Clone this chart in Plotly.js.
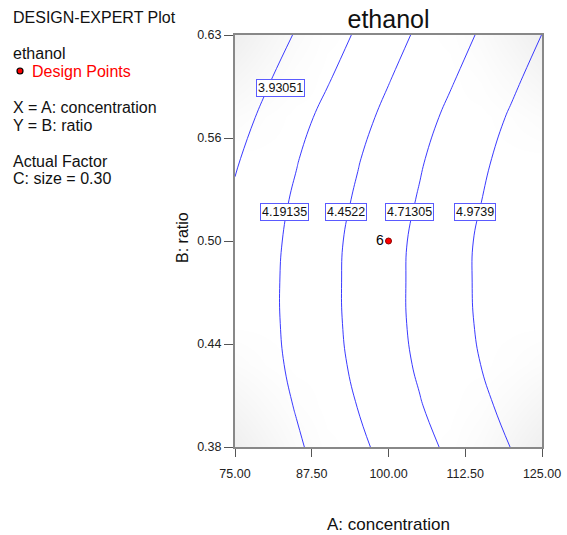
<!DOCTYPE html>
<html>
<head>
<meta charset="utf-8">
<script src="https://cdn.plot.ly/plotly-3.0.1.min.js"></script>
<style>html,body{margin:0;padding:0;background:#fff;}#chart{width:567px;height:535px;}</style>
</head>
<body>
<div id="chart"></div>
<script>
// ---- data ----
const concentration = [75, 80, 85, 90, 95, 100, 105, 110, 115, 120, 125];
const ratio = [0.375, 0.4, 0.425, 0.45, 0.475, 0.5, 0.525, 0.55, 0.575, 0.6, 0.625];
// ethanol response, one row per ratio value (ascending)
const row0375 = [3.9420, 4.0378, 4.1597, 4.2816, 4.4035, 4.5221, 4.6385, 4.7535, 4.8659, 4.9784, 5.0869];
const row0400 = [3.9550, 4.0796, 4.2055, 4.3313, 4.4570, 4.5778, 4.6986, 4.8129, 4.9263, 5.0380, 5.1485];
const row0425 = [3.9847, 4.1146, 4.2425, 4.3704, 4.4965, 4.6195, 4.7410, 4.8574, 4.9739, 5.0873, 5.2007];
const row0450 = [3.9991, 4.1301, 4.2593, 4.3886, 4.5157, 4.6406, 4.7629, 4.8814, 4.9995, 5.1160, 5.2324];
const row0475 = [3.9990, 4.1314, 4.2618, 4.3922, 4.5193, 4.6435, 4.7662, 4.8870, 5.0068, 5.1243, 5.2418];
const row0500 = [3.9864, 4.1199, 4.2523, 4.3847, 4.5131, 4.6375, 4.7606, 4.8818, 5.0024, 5.1209, 5.2395];
const row0525 = [3.9618, 4.0927, 4.2225, 4.3523, 4.4806, 4.6043, 4.7276, 4.8483, 4.9690, 5.0877, 5.2063];
const row0550 = [3.9059, 4.0425, 4.1791, 4.3094, 4.4392, 4.5644, 4.6891, 4.8103, 4.9306, 5.0509, 5.1712];
const row0575 = [3.8385, 3.9779, 4.1172, 4.2518, 4.3811, 4.5086, 4.6340, 4.7575, 4.8777, 4.9979, 5.1181];
const row0600 = [3.7646, 3.8988, 4.0330, 4.1672, 4.3016, 4.4361, 4.5615, 4.6857, 4.8072, 4.9280, 5.0488];
const row0625 = [3.6754, 3.8115, 3.9477, 4.0838, 4.2200, 4.3566, 4.4893, 4.6128, 4.7353, 4.8534, 4.9760];
// faint background shading (prediction error), darker toward the corners
const shade0375 = [0.9, 0.55, 0.25, 0.05, 0, 0, 0, 0.05, 0.25, 0.55, 0.9];
const shade0400 = [0.55, 0.3, 0.1, 0, 0, 0, 0, 0, 0.1, 0.3, 0.55];
const shade0425 = [0.2, 0.08, 0, 0, 0, 0, 0, 0, 0, 0.08, 0.2];
const shade0450 = [0, 0, 0, 0, 0, 0, 0, 0, 0, 0, 0];
const shade0475 = [0, 0, 0, 0, 0, 0, 0, 0, 0, 0, 0];
const shade0500 = [0, 0, 0, 0, 0, 0, 0, 0, 0, 0, 0];
const shade0525 = [0, 0, 0, 0, 0, 0, 0, 0, 0, 0, 0];
const shade0550 = [0, 0, 0, 0, 0, 0, 0, 0, 0, 0, 0];
const shade0575 = [0.2, 0.08, 0, 0, 0, 0, 0, 0, 0, 0.08, 0.2];
const shade0600 = [0.55, 0.3, 0.1, 0, 0, 0, 0, 0, 0.1, 0.3, 0.55];
const shade0625 = [0.9, 0.55, 0.25, 0.05, 0, 0, 0, 0.05, 0.25, 0.55, 0.9];
const contourLevels = [3.93051, 4.19135, 4.4522, 4.71305, 4.9739];
const labelTexts = ['3.93051', '4.19135', '4.4522', '4.71305', '4.9739'];
const designA = [100];
const designB = [0.50];
const designLabels = ['6'];
const xTickVals = [75, 87.5, 100, 112.5, 125];
const xTickText = ['75.00', '87.50', '100.00', '112.50', '125.00'];
const yTickVals = [0.375, 0.4375, 0.5, 0.5625, 0.625];
const yTickText = ['0.38', '0.44', '0.50', '0.56', '0.63'];
const infoLines = ['DESIGN-EXPERT Plot', 'ethanol', 'Design Points', 'X = A: concentration', 'Y = B: ratio', 'Actual Factor', 'C: size = 0.30'];

// ---- layout helpers (positions only) ----
const W = 567, H = 535, L = 235, R = 542, T = 35, B = 447;
const px = x => (x - L) / (R - L);
const py = y => (B - y) / (B - T);
const FONT = 'Liberation Sans, Arial, sans-serif';
const labelPos = [[82.41, 0.5927], [83.06, 0.5178], [93.03, 0.5178], [103.4, 0.5178], [114.1, 0.5178]];

const zGrid = [row0375, row0400, row0425, row0450, row0475, row0500, row0525, row0550, row0575, row0600, row0625];
const shadeGrid = [shade0375, shade0400, shade0425, shade0450, shade0475, shade0500, shade0525, shade0550, shade0575, shade0600, shade0625];

const shading = {
  type: 'heatmap',
  x: concentration,
  y: ratio,
  z: shadeGrid,
  zmin: 0, zmax: 1,
  zsmooth: 'best',
  colorscale: [[0, '#ffffff'], [1, '#ededed']],
  showscale: false,
  hoverinfo: 'skip'
};

const contour = {
  type: 'contour',
  x: concentration,
  y: ratio,
  z: zGrid,
  showscale: false,
  hoverinfo: 'skip',
  contours: {
    coloring: 'none',
    start: contourLevels[0],
    end: contourLevels[contourLevels.length - 1],
    size: contourLevels[1] - contourLevels[0],
    showlabels: false
  },
  line: {color: '#2424ff', width: 0.9, smoothing: 1.3}
};

const points = {
  type: 'scatter',
  mode: 'markers+text',
  x: designA,
  y: designB,
  text: designLabels,
  textposition: 'middle left',
  textfont: {family: FONT, size: 14, color: '#000'},
  marker: {color: '#ff0000', size: 6, line: {color: '#8b0000', width: 1}},
  hoverinfo: 'skip',
  cliponaxis: false
};

const annotations = [];
labelTexts.forEach((t, i) => {
  annotations.push({
    x: labelPos[i][0], y: labelPos[i][1], xref: 'x', yref: 'y',
    text: t, showarrow: false,
    font: {family: FONT, size: 12.5, color: '#111'},
    bgcolor: '#ffffff', bordercolor: '#5a5aff', borderwidth: 1, borderpad: 1
  });
});
const infoY = [22.7, 59.3, 76.7, 113.3, 130.7, 166.7, 184.3];
infoLines.forEach((t, i) => {
  annotations.push({
    xref: 'paper', yref: 'paper', x: px(i === 2 ? 30 : 11), y: py(infoY[i] - 5.6),
    xanchor: 'left', yanchor: 'middle', showarrow: false, text: t,
    font: {family: FONT, size: 16, color: i === 2 ? '#ff0000' : '#111'}
  });
});
annotations.push({
  xref: 'paper', yref: 'paper', x: px(388), y: py(524), xanchor: 'center', yanchor: 'middle',
  showarrow: false, text: 'A: concentration', font: {family: FONT, size: 17, color: '#111'}
});
annotations.push({
  xref: 'paper', yref: 'paper', x: px(182), y: py(238), xanchor: 'center', yanchor: 'middle',
  showarrow: false, text: 'B: ratio', textangle: -90, font: {family: FONT, size: 16, color: '#111'}
});

const layout = {
  width: W, height: H,
  margin: {l: L, r: W - R, t: T, b: H - B, pad: 0},
  paper_bgcolor: '#ffffff', plot_bgcolor: '#ffffff',
  showlegend: false,
  title: {text: 'ethanol', font: {family: FONT, size: 25, color: '#111'},
          xref: 'paper', x: 0.5, xanchor: 'center', yref: 'container', y: 1 - 19 / H, yanchor: 'middle'},
  xaxis: {
    range: [75, 125], tickvals: xTickVals, ticktext: xTickText,
    ticks: 'outside', ticklen: 8, tickcolor: '#555', tickwidth: 1,
    showline: true, linecolor: '#888', linewidth: 2, mirror: true,
    showgrid: false, zeroline: false, ticklabelstandoff: 6,
    tickfont: {family: FONT, size: 12.5, color: '#222'}
  },
  yaxis: {
    range: [0.375, 0.625], tickvals: yTickVals, ticktext: yTickText,
    ticks: 'outside', ticklen: 9, tickcolor: '#555', tickwidth: 1,
    showline: true, linecolor: '#888', linewidth: 2, mirror: true,
    showgrid: false, zeroline: false,
    tickfont: {family: FONT, size: 12.5, color: '#222'}
  },
  annotations: annotations,
  shapes: [{
    type: 'circle', xref: 'paper', yref: 'paper',
    x0: px(17), x1: px(23), y0: py(74), y1: py(68),
    fillcolor: '#ff0000', line: {color: '#000', width: 1.2}
  }]
};

Plotly.newPlot('chart', [shading, contour, points], layout, {staticPlot: true});
</script>
</body>
</html>
